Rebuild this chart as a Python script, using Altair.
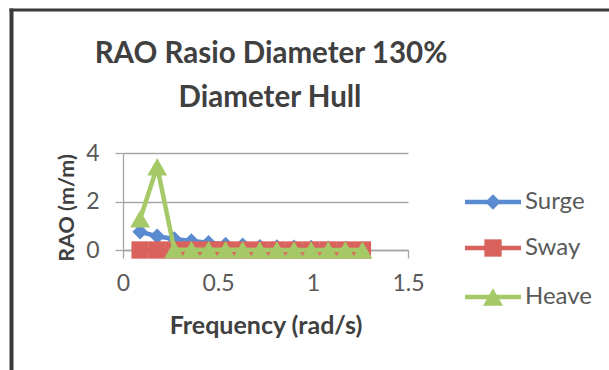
import altair as alt
import pandas as pd

# ---- data ----
freq = [0.09, 0.18, 0.27, 0.36, 0.45, 0.54, 0.63, 0.72, 0.81, 0.90, 0.99, 1.08, 1.17, 1.26]
surge = [0.75, 0.57, 0.45, 0.37, 0.30, 0.23, 0.20, 0.13, 0.12, 0.11, 0.10, 0.07, 0.06, 0.05]
sway = [0.0, 0.0, 0.0, 0.0, 0.0, 0.0, 0.0, 0.0, 0.0, 0.0, 0.0, 0.0, 0.0, 0.0]
heave = [1.28, 3.43, 0.02, 0.01, 0.01, 0.01, 0.01, 0.0, 0.0, 0.0, 0.0, 0.0, 0.0, 0.0]

series_names = ["Surge", "Sway", "Heave"]
series_values = [surge, sway, heave]
colors = ["#5A8AD0", "#D9625C", "#A6C967"]
shapes = ["diamond", "square", "triangle-up"]
marker_sizes = [240, 300, 400]

x_ticks = [0, 0.5, 1, 1.5]
y_ticks = [0, 2, 4]
title_lines = ["RAO Rasio Diameter 130%", "Diameter Hull"]
x_title = "Frequency (rad/s)"
y_title = "RAO (m/m)"

FONT = "Lato"
TEXT_DARK = "#404040"
TEXT_MID = "#595959"
GRID = "#A6A6A6"

x_enc = alt.X(
    "Frequency:Q",
    scale=alt.Scale(domain=[0, 1.5], nice=False, zero=False),
    axis=alt.Axis(values=x_ticks, format="~g", title=None, grid=False,
                  tickSize=8, labelPadding=14, labelFlush=False),
)
y_enc = alt.Y(
    "RAO:Q",
    scale=alt.Scale(domain=[0, 4], nice=False),
    axis=alt.Axis(values=y_ticks, title=None, grid=True, tickSize=8,
                  labelPadding=16, labelFlush=False),
)

layers = []
for name, vals, col, shp, sz in zip(series_names, series_values, colors, shapes, marker_sizes):
    df = pd.DataFrame({"Frequency": freq, "RAO": vals, "Series": name})
    base = alt.Chart(df)
    layers.append(base.mark_line(color=col, strokeWidth=4.5).encode(x=x_enc, y=y_enc))
    layers.append(base.mark_point(color=col, shape=shp, size=sz, filled=True, opacity=1)
                  .encode(x=x_enc, y=y_enc))

# ---- text (title and axis titles) ----
def text_layer(txt, x, y, size, color=TEXT_DARK, bold=True, angle=0, baseline="alphabetic", align="center"):
    kw = dict(font=FONT, fontSize=size, color=color, align=align, baseline=baseline)
    if bold:
        kw["fontWeight"] = "bold"
    if angle:
        kw["angle"] = angle
    return alt.Chart(pd.DataFrame({"t": [txt]})).mark_text(**kw).encode(
        text="t:N", x=alt.value(x), y=alt.value(y))

layers.append(text_layer(title_lines[0], 148, -90, 29.5))
layers.append(text_layer(title_lines[1], 147, -46, 29.5))
layers.append(text_layer(x_title, 143, 181, 25))
layers.append(text_layer(y_title, -49, 55, 21.5, angle=270))

# ---- legend (drawn manually, Excel style: line + marker) ----
legend_y = [49, 95, 144]
for name, col, shp, sz, ly in zip(series_names, colors, shapes, marker_sizes, legend_y):
    d = pd.DataFrame({"t": [name]})
    c = alt.Chart(d)
    layers.append(c.mark_rule(color=col, strokeWidth=4.5).encode(
        x=alt.value(342), x2=alt.value(398), y=alt.value(ly)))
    layers.append(c.mark_point(color=col, shape=shp, size=sz, filled=True, opacity=1).encode(
        x=alt.value(370), y=alt.value(ly)))
    layers.append(c.mark_text(font=FONT, fontSize=24, color=TEXT_MID, align="left",
                              baseline="middle").encode(
        text="t:N", x=alt.value(402), y=alt.value(ly)))

# ---- chart border ----
bd = alt.Chart(pd.DataFrame({"t": [0]}))
layers.append(bd.mark_rule(color="#3A3A3A", strokeWidth=4).encode(
    x=alt.value(-111.5), y=alt.value(-144.5), y2=alt.value(230)))
layers.append(bd.mark_rule(color="#3A3A3A", strokeWidth=3).encode(
    x=alt.value(-113.5), x2=alt.value(500), y=alt.value(-143)))

chart = alt.layer(*layers).properties(
    width=285, height=97,
    autosize=alt.AutoSizeParams(type="none"),
    padding={"left": 123, "top": 153, "right": 201, "bottom": 120},
    background="white",
).configure_view(stroke=None).configure_axis(
    labelFont=FONT, labelFontSize=23, labelColor=TEXT_MID,
    domainColor=GRID, tickColor=GRID, gridColor=GRID,
    domainWidth=1.3, tickWidth=1.3, gridWidth=1.3,
)

chart.save("out.html", embed_options={"renderer": "svg", "actions": False})
